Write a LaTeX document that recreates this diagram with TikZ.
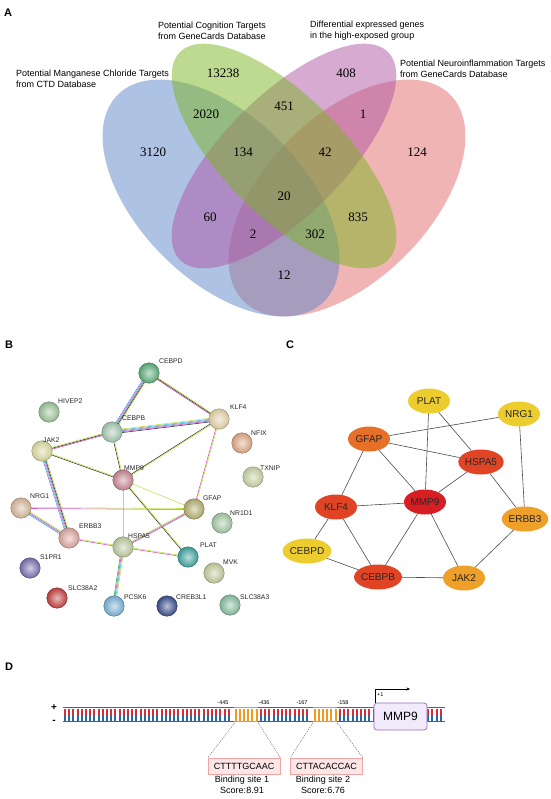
\documentclass[tikz,border=0pt]{standalone}
\usepackage{fontspec}
\setmainfont{Liberation Sans}
\newfontfamily\vserif{Liberation Serif}
\usetikzlibrary{calc,shapes.geometric,arrows.meta}
\pgfdeclarelayer{bg}
\pgfsetlayers{bg,main}
% Venn colours
\definecolor{vblue}{RGB}{93,133,199}
\definecolor{vgreen}{RGB}{125,181,35}
\definecolor{vmag}{RGB}{175,85,165}
\definecolor{vred}{RGB}{225,105,105}
% STRING edge colours
\definecolor{stm}{RGB}{195,228,70}
\definecolor{sco}{RGB}{55,55,55}
\definecolor{sex}{RGB}{215,85,205}
\definecolor{sdb}{RGB}{60,200,230}
\definecolor{shom}{RGB}{140,130,225}
\definecolor{sgn}{RGB}{60,180,70}
% STRING node colours
\definecolor{kCEBPD}{RGB}{93,174,122}
\definecolor{kHIVEP2}{RGB}{156,196,154}
\definecolor{kKLF4}{RGB}{229,210,168}
\definecolor{kCEBPB}{RGB}{165,201,176}
\definecolor{kNFIX}{RGB}{224,168,134}
\definecolor{kJAK2}{RGB}{220,220,160}
\definecolor{kMMP9}{RGB}{201,136,149}
\definecolor{kTXNIP}{RGB}{201,212,165}
\definecolor{kNRG1}{RGB}{216,185,154}
\definecolor{kGFAP}{RGB}{181,176,112}
\definecolor{kNR1D1}{RGB}{166,201,166}
\definecolor{kERBB3}{RGB}{221,168,160}
\definecolor{kHSPA5}{RGB}{188,204,160}
\definecolor{kPLAT}{RGB}{63,165,160}
\definecolor{kS1PR1}{RGB}{122,112,176}
\definecolor{kMVK}{RGB}{197,204,156}
\definecolor{kSLC38A2}{RGB}{197,64,64}
\definecolor{kPCSK6}{RGB}{124,178,218}
\definecolor{kCREB3L1}{RGB}{58,79,140}
\definecolor{kSLC38A3}{RGB}{136,192,160}
% panel C colours
\definecolor{cyel}{RGB}{236,205,45}
\definecolor{corg}{RGB}{238,160,40}
\definecolor{cgfap}{RGB}{230,112,40}
\definecolor{cred}{RGB}{225,68,36}
\definecolor{cmmp}{RGB}{215,30,35}
% panel D colours
\definecolor{dred}{RGB}{218,45,55}
\definecolor{dblue}{RGB}{40,105,165}
\definecolor{dorg}{RGB}{244,152,30}
\definecolor{dboxf}{RGB}{252,230,230}
\definecolor{dboxd}{RGB}{240,165,165}
\definecolor{dmmpf}{RGB}{240,234,250}
\definecolor{dmmpd}{RGB}{150,110,190}
\newcommand\sedge[3]{%
  \foreach \o/\c in {#3}{%
    \draw[\c, line width=0.6pt] ($(#1)!\o pt!90:(#2)$) -- ($(#2)!\o pt!-90:(#1)$);}}
\newcommand\rungs[5]{% first, second, last, top colour, bottom colour
  \foreach \xx in {#1,#2,...,#3}{%
    \draw[#4, line width=2pt] (\xx,708.5) -- (\xx,714.5);
    \draw[#5, line width=2pt] (\xx,714.5) -- (\xx,720.5);}}
\begin{document}
\begin{tikzpicture}[x=1pt,y=-1pt,
  panel/.style={font=\fontsize{11}{13}\selectfont\bfseries, inner sep=0pt},
  vlab/.style={font=\fontsize{9}{11}\selectfont, align=left, inner sep=0pt, anchor=west},
  vnum/.style={font=\vserif\fontsize{13}{15}\selectfont, inner sep=0pt},
  sph/.style={circle, minimum size=20.5pt, inner sep=0pt, shading=radial, inner color=#1!35!white, outer color=#1!92!black, draw=#1!60!black, line width=0.35pt},
  blab/.style={font=\fontsize{6.8}{8}\selectfont, inner sep=0pt, anchor=west, text=black!85},
  cnode/.style={ellipse, minimum width=42pt, minimum height=25pt, inner sep=0pt, fill=#1, font=\fontsize{10}{12}\selectfont, text=black!85},
  cedge/.style={draw=black!70, line width=0.6pt},
  dtxt/.style={font=\fontsize{9}{11}\selectfont, inner sep=0pt},
  dsmall/.style={font=\fontsize{5.5}{7}\selectfont, inner sep=0pt},
  dbox/.style={draw=dboxd, fill=dboxf, line width=0.6pt, minimum width=72pt, minimum height=16pt, inner sep=0pt, font=\fontsize{9}{11}\selectfont},
  ddash/.style={draw=black!60, line width=0.4pt, dash pattern=on 1.5pt off 1pt}]
\useasboundingbox (0,0) rectangle (550,799);

% ================= Panel A =================
\node[panel] (lA) at (8,13) {A};
\fill[vred, fill opacity=0.5, rotate around={45:(347,198)}] (347,198) ellipse [x radius=146pt, y radius=82pt];
\fill[vblue, fill opacity=0.5, rotate around={-45:(221,198)}] (221,198) ellipse [x radius=146pt, y radius=82pt];
\fill[vmag, fill opacity=0.5, rotate around={45:(284,156)}] (284,156) ellipse [x radius=147pt, y radius=60pt];
\fill[vgreen, fill opacity=0.5, rotate around={-45:(284,156)}] (284,156) ellipse [x radius=147pt, y radius=60pt];

\node[vlab] (tMn) at (16,78.5) {Potential Manganese Chloride Targets\\from CTD Database};
\node[vlab] (tCog) at (158,30.5) {Potential Cognition Targets\\from GeneCards Database};
\node[vlab] (tDeg) at (310,30.5) {Differential expressed genes\\in the high-exposed group};
\node[vlab] (tNeu) at (400,68.5) {Potential Neuroinflammation Targets\\from GeneCards Database};

\node[vnum] (n1) at (223,73) {13238};
\node[vnum] (n2) at (346,73) {408};
\node[vnum] (n3) at (206,114) {2020};
\node[vnum] (n4) at (284,106) {451};
\node[vnum] (n5) at (363,114) {1};
\node[vnum] (n6) at (153,152) {3120};
\node[vnum] (n7) at (243,152) {134};
\node[vnum] (n8) at (325,152) {42};
\node[vnum] (n9) at (417,152) {124};
\node[vnum] (n10) at (284,196) {20};
\node[vnum] (n11) at (210,217) {60};
\node[vnum] (n12) at (358,217) {835};
\node[vnum] (n13) at (253,234) {2};
\node[vnum] (n14) at (315,234) {302};
\node[vnum] (n15) at (284,275) {12};

% ================= Panel B =================
\node[panel] (lB) at (9,345) {B};
\node[sph=kCEBPD] (bCEBPD) at (149,373) {};
\node[sph=kHIVEP2] (bHIVEP2) at (49,412) {};
\node[sph=kKLF4] (bKLF4) at (219,419) {};
\node[sph=kCEBPB] (bCEBPB) at (112,432) {};
\node[sph=kNFIX] (bNFIX) at (242,443) {};
\node[sph=kJAK2] (bJAK2) at (42,451) {};
\node[sph=kMMP9] (bMMP9) at (123,480) {};
\node[sph=kTXNIP] (bTXNIP) at (253,477) {};
\node[sph=kNRG1] (bNRG1) at (21,508) {};
\node[sph=kGFAP] (bGFAP) at (194,509) {};
\node[sph=kNR1D1] (bNR1D1) at (222,523) {};
\node[sph=kERBB3] (bERBB3) at (69,538) {};
\node[sph=kHSPA5] (bHSPA5) at (123,547) {};
\node[sph=kPLAT] (bPLAT) at (188,557) {};
\node[sph=kS1PR1] (bS1PR1) at (30,568) {};
\node[sph=kMVK] (bMVK) at (214,573) {};
\node[sph=kSLC38A2] (bSLC38A2) at (57,598) {};
\node[sph=kPCSK6] (bPCSK6) at (114,606) {};
\node[sph=kCREB3L1] (bCREB3L1) at (167,606) {};
\node[sph=kSLC38A3] (bSLC38A3) at (230,605) {};

\node[blab] at (159,361) {CEBPD};
\node[blab] at (58,401) {HIVEP2};
\node[blab] at (230,407) {KLF4};
\node[blab] at (122,418) {CEBPB};
\node[blab] at (251,433) {NFIX};
\node[blab] at (43,440) {JAK2};
\node[blab] at (124,468) {MMP9};
\node[blab] at (260,468) {TXNIP};
\node[blab] at (30,496) {NRG1};
\node[blab] at (203,498) {GFAP};
\node[blab] at (230,513) {NR1D1};
\node[blab] at (79,526) {ERBB3};
\node[blab] at (128,536) {HSPA5};
\node[blab] at (200,545) {PLAT};
\node[blab] at (40,557) {S1PR1};
\node[blab] at (223,562) {MVK};
\node[blab] at (68,588) {SLC38A2};
\node[blab] at (124,597) {PCSK6};
\node[blab] at (176,597) {CREB3L1};
\node[blab] at (240,597) {SLC38A3};

\begin{pgfonlayer}{bg}
\sedge{bCEBPD}{bCEBPB}{-1.8/shom,-0.9/sdb,0/sex,0.9/sco,1.8/stm}
\sedge{bCEBPD}{bKLF4}{-0.9/sex,0/sco,0.9/stm}
\sedge{bCEBPB}{bKLF4}{-1.8/sco,-0.9/sex,0/shom,0.9/sdb,1.8/stm}
\sedge{bJAK2}{bCEBPB}{-0.9/sex,0/sco,0.9/stm}
\sedge{bJAK2}{bERBB3}{-1.8/shom,-0.9/sdb,0/sex,0.9/sco,1.8/stm}
\sedge{bJAK2}{bMMP9}{-0.45/sco,0.45/stm}
\sedge{bCEBPB}{bMMP9}{-0.45/sco,0.45/stm}
\sedge{bKLF4}{bMMP9}{-0.45/sco,0.45/stm}
\sedge{bKLF4}{bGFAP}{-0.45/sex,0.45/stm}
\sedge{bMMP9}{bGFAP}{0/stm}
\sedge{bMMP9}{bHSPA5}{0/stm}
\sedge{bMMP9}{bPLAT}{-0.45/sco,0.45/stm}
\sedge{bNRG1}{bGFAP}{-0.45/sex,0.45/stm}
\sedge{bNRG1}{bERBB3}{-1.35/shom,-0.45/sdb,0.45/sex,1.35/stm}
\sedge{bERBB3}{bHSPA5}{-0.45/sex,0.45/stm}
\sedge{bHSPA5}{bGFAP}{-0.9/shom,0/sex,0.9/stm}
\sedge{bHSPA5}{bPLAT}{-0.45/sex,0.45/stm}
\sedge{bHSPA5}{bPCSK6}{-1.35/sgn,-0.45/sex,0.45/sdb,1.35/stm}
\end{pgfonlayer}

% ================= Panel C =================
\node[panel] (lC) at (290,345) {C};
\node[cnode=cyel] (cPLAT) at (429,401) {PLAT};
\node[cnode=cyel] (cNRG1) at (519,414) {NRG1};
\node[cnode=cgfap] (cGFAP) at (369,439) {GFAP};
\node[cnode=cred] (cHSPA5) at (481,462) {HSPA5};
\node[cnode=cmmp] (cMMP9) at (425,502) {MMP9};
\node[cnode=cred] (cKLF4) at (336,507) {KLF4};
\node[cnode=corg] (cERBB3) at (525,519) {ERBB3};
\node[cnode=cyel] (cCEBPD) at (307,551) {CEBPD};
\node[cnode=cred] (cCEBPB) at (378,577) {CEBPB};
\node[cnode=corg] (cJAK2) at (464,578) {JAK2};
\path[cedge] (cPLAT) -- (cMMP9);
\path[cedge] (cPLAT) -- (cHSPA5);
\path[cedge] (cNRG1) -- (cGFAP);
\path[cedge] (cNRG1) -- (cERBB3);
\path[cedge] (cGFAP) -- (cHSPA5);
\path[cedge] (cGFAP) -- (cMMP9);
\path[cedge] (cGFAP) -- (cKLF4);
\path[cedge] (cHSPA5) -- (cMMP9);
\path[cedge] (cHSPA5) -- (cERBB3);
\path[cedge] (cKLF4) -- (cMMP9);
\path[cedge] (cKLF4) -- (cCEBPD);
\path[cedge] (cKLF4) -- (cCEBPB);
\path[cedge] (cMMP9) -- (cCEBPB);
\path[cedge] (cMMP9) -- (cJAK2);
\path[cedge] (cERBB3) -- (cJAK2);
\path[cedge] (cCEBPD) -- (cCEBPB);
\path[cedge] (cCEBPB) -- (cJAK2);

% ================= Panel D =================
\node[panel] (lD) at (9,667) {D};
\node[font=\fontsize{10}{12}\selectfont\bfseries, inner sep=0pt] (plus) at (54,708) {+};
\node[font=\fontsize{10}{12}\selectfont\bfseries, inner sep=0pt] (minus) at (54,722) {-};
% strands
\draw[dred, line width=1.8pt] (63,707.5) -- (445,707.5);
\draw[dblue, line width=1.8pt] (63,721.5) -- (445,721.5);
\rungs{65}{69.2}{231}{dred}{dblue}
\rungs{261}{265.2}{310}{dred}{dblue}
\rungs{340}{344.2}{444}{dred}{dblue}
\draw[dorg, line width=1.8pt] (234,707.5) -- (258,707.5);
\draw[dorg, line width=1.8pt] (234,721.5) -- (258,721.5);
\draw[dorg, line width=1.8pt] (313,707.5) -- (337,707.5);
\draw[dorg, line width=1.8pt] (313,721.5) -- (337,721.5);
\rungs{235.5}{239.7}{257}{dorg}{dorg}
\rungs{314.5}{318.7}{336}{dorg}{dorg}
\coordinate (o1a) at (235,722.5);
\coordinate (o1b) at (258,722.5);
\coordinate (o2a) at (313,722.5);
\coordinate (o2b) at (337,722.5);
\node[dsmall] (p445) at (223,703) {-445};
\node[dsmall] (p436) at (264,703) {-436};
\node[dsmall] (p167) at (302,703) {-167};
\node[dsmall] (p158) at (343,703) {-158};
\node[draw=dmmpd, fill=dmmpf, rounded corners=3pt, line width=0.7pt, minimum width=53pt, minimum height=27pt, inner sep=0pt, font=\fontsize{12}{14}\selectfont] (mbox) at (400.5,716.5) {MMP9};
\coordinate (tss) at ($(mbox.north west)+(1.5,0)$);
\coordinate (tssend) at (410,689);
\draw[line width=0.5pt, -{Stealth[length=3.5pt,width=3pt]}] (tss) |- (tssend);
\node[dsmall, anchor=west] (plus1) at (377,695) {+1};
\node[dbox] (site1) at (244,766) {CTTTTGCAAC};
\node[dbox] (site2) at (326.5,766) {CTTACACCAC};
\draw[ddash] (o1a) -- (site1.north west);
\draw[ddash] (o1b) -- (site1.north east);
\draw[ddash] (o2a) -- (site2.north west);
\draw[ddash] (o2b) -- (site2.north east);
\node[dtxt, align=center] (s1t) at (242,784.5) {Binding site 1\\Score:8.91};
\node[dtxt, align=center] (s2t) at (323,784.5) {Binding site 2\\Score:6.76};
\end{tikzpicture}
\end{document}
